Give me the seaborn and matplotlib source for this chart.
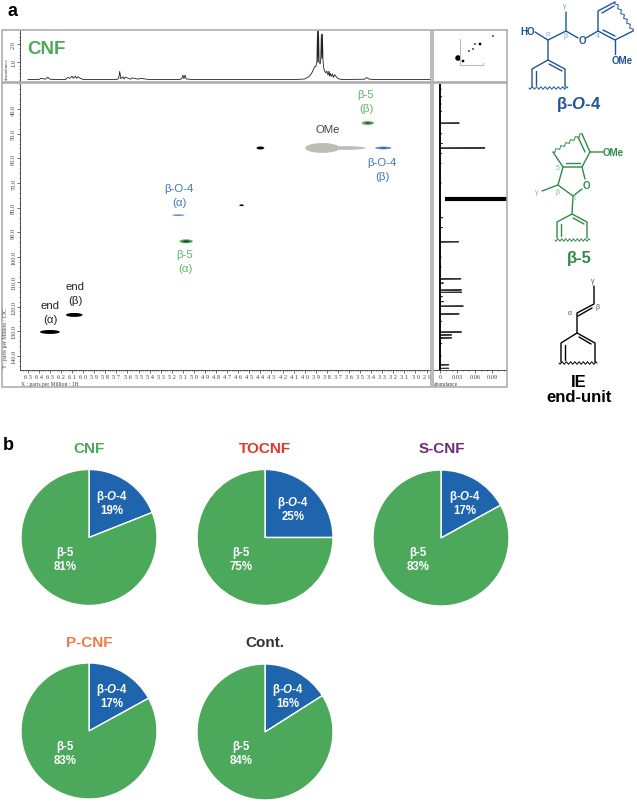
import numpy as np
import pandas as pd
import matplotlib
matplotlib.use("Agg")
import matplotlib.pyplot as plt
from matplotlib.patches import Ellipse, Rectangle
import seaborn as sns

# pie data
pie_names = ['CNF', 'TOCNF', 'S-CNF', 'P-CNF', 'Cont.']
bo4_share = [19, 25, 17, 17, 16]
b5_share = [81, 75, 83, 83, 84]
title_colors = ['#4CA85A', '#E0392B', '#6C2C7C', '#EE7B47', '#333333']

# 2D spectrum cross peaks: 1H ppm, 13C ppm, width, height, colour
peak_h = [6.30, 6.08, 5.14, 5.07, 5.07, 4.57, 4.40, 3.84, 3.63, 3.43, 3.43, 3.29, 3.29]
peak_c = [130.3, 123.4, 83.0, 93.6, 93.6, 79.0, 55.8, 55.8, 55.8, 45.7, 45.7, 55.8, 55.8]
peak_w = [0.18, 0.15, 0.11, 0.12, 0.06, 0.04, 0.07, 0.31, 0.36, 0.11, 0.05, 0.15, 0.05]
peak_t = [1.6, 1.6, 0.6, 1.6, 0.7, 0.7, 1.2, 4.0, 1.5, 1.5, 0.5, 1.1, 0.5]
peak_col = ['black', 'black', '#4F86C0', '#4CA85A', '#1c3d24', 'black', 'black',
            '#BDBDB5', '#BDBDB5', '#4CA85A', '#1c3d24', '#5B8FC7', '#2c4f78']

# top 1H projection
top_ppm = [6.50, 6.40, 6.38, 6.34, 6.32, 6.30, 6.25, 6.16, 6.14, 6.12, 6.10, 6.09, 6.07, 6.06, 6.05, 6.00,
           5.70, 5.68, 5.67, 5.66, 5.64, 5.63, 5.62, 5.57, 5.56, 5.50, 5.49, 5.40,
           5.13, 5.11, 5.10, 5.09, 5.08, 5.07, 5.00, 4.40, 4.10, 4.00, 3.96, 3.94, 3.92, 3.91,
           3.90, 3.89, 3.885, 3.88, 3.875, 3.87, 3.86, 3.855, 3.85, 3.845, 3.84, 3.835, 3.83, 3.82,
           3.81, 3.80, 3.79, 3.78, 3.775, 3.77, 3.76, 3.75, 3.74, 3.73, 3.70, 3.66,
           3.46, 3.44, 3.42, 3.38, 3.20, 2.86]
top_abund = [0.03, 0.03, 0.10, 0.05, 0.16, 0.05, 0.03, 0.03, 0.15, 0.10, 0.22, 0.10, 0.22, 0.10, 0.18, 0.03,
             0.03, 0.08, 0.48, 0.08, 0.18, 0.06, 0.16, 0.05, 0.12, 0.05, 0.10, 0.03,
             0.03, 0.08, 0.28, 0.08, 0.28, 0.06, 0.03, 0.03, 0.03, 0.06, 0.20, 0.35, 0.60, 0.75,
             0.75, 1.00, 2.72, 1.00, 2.72, 1.00, 0.90, 1.20, 2.55, 1.20, 2.55, 1.10, 0.70, 0.50,
             0.40, 0.50, 0.28, 0.50, 0.22, 0.38, 0.20, 0.35, 0.15, 0.30, 0.08, 0.03,
             0.05, 0.14, 0.06, 0.03, 0.03, 0.03]

# right 13C projection sticks
stick_c = [32, 35, 38, 41, 45.7, 50, 54, 55.8, 58, 62, 70, 84, 88, 93.8, 100, 104, 108.8, 110.5, 113.3, 114.2,
           116, 118, 119.8, 123.0, 126, 130.3, 131.5, 132.7, 135, 140, 143.6, 145.0]
stick_abund = [0.002, 0.003, 0.002, 0.003, 0.033, 0.003, 0.004, 0.077, 0.003, 0.002, 0.002, 0.005, 0.004, 0.032,
               0.002, 0.002, 0.036, 0.006, 0.037, 0.037, 0.004, 0.006, 0.040, 0.033, 0.003, 0.037, 0.020,
               0.020, 0.003, 0.002, 0.015, 0.015]
heavy_c = 76.5

# thumbnail dots (box pixels)
thumb_x = [25, 30, 36, 40, 42, 47, 60]
thumb_y = [28, 31, 21, 19, 14, 14, 6]
thumb_s = [14, 4, 2, 2, 2, 4, 2]

x_ticks = np.round(np.arange(2.9, 6.55, 0.1), 1)
y_ticks = [40, 50, 60, 70, 80, 90, 100, 110, 120, 130, 140]

GREEN = '#4CA85A'
BLUE = '#1F65AE'
DBLUE = '#1E5597'
DGREEN = '#2F8B45'

sns.set_theme(style="white")
plt.rcParams['font.family'] = ['Liberation Sans', 'DejaVu Sans']
plt.rcParams['mathtext.fontset'] = 'custom'
plt.rcParams['mathtext.it'] = 'Liberation Sans:italic:bold'
plt.rcParams['mathtext.rm'] = 'Liberation Sans:bold'
plt.rcParams['mathtext.bf'] = 'Liberation Sans:bold'

W, H = 637, 803
fig = plt.figure(figsize=(W / 100, H / 100), dpi=100)


def px_axes(x0, y0, x1, y1, **kw):
    return fig.add_axes([x0 / W, 1 - y1 / H, (x1 - x0) / W, (y1 - y0) / H], **kw)


def tiny_ticks(ax):
    ax.tick_params(which='major', length=2, width=0.5, color='#333333', pad=0.8, labelsize=4.6,
                   labelcolor='#444444', bottom=ax.spines['bottom'].get_visible(),
                   left=ax.spines['left'].get_visible())
    ax.tick_params(which='minor', length=1, width=0.4, color='#333333',
                   bottom=ax.spines['bottom'].get_visible(), left=ax.spines['left'].get_visible())
    for lab in ax.get_xticklabels() + ax.get_yticklabels():
        lab.set_family('Liberation Serif')


# 2D spectrum
ax2d = px_axes(20, 85, 431, 371)
ax2d.set_xlim(6.57, 2.86)
ax2d.set_ylim(145.7, 29.9)
for h, c, w, t, col in zip(peak_h, peak_c, peak_w, peak_t, peak_col):
    ax2d.add_patch(Ellipse((h, c), w, t, color=col, lw=0))
ax2d.set_xticks(x_ticks)
ax2d.set_xticklabels([f'{v:.1f}'.replace('.', ' ') for v in x_ticks])
ax2d.set_xticks(np.arange(2.9, 6.55, 0.02), minor=True)
ax2d.set_yticks(y_ticks)
ax2d.set_yticklabels([f'{v:.1f}' for v in y_ticks], rotation=90, va='center')
ax2d.set_yticks(np.arange(30, 146, 2), minor=True)
sns.despine(ax=ax2d)
for s in ('left', 'bottom'):
    ax2d.spines[s].set_linewidth(0.6)
    ax2d.spines[s].set_color('#333333')
tiny_ticks(ax2d)

# top projection
ax_top = px_axes(20, 31, 431, 82)
sns.lineplot(x=top_ppm, y=top_abund, sort=False, estimator=None, color='#222222', lw=0.6, ax=ax_top)
ax_top.set_xlim(6.57, 2.86)
ax_top.set_ylim(-0.05, 2.78)
ax_top.set_xticks([])
ax_top.set_yticks([1, 2])
ax_top.set_yticklabels(['1.0', '2.0'], rotation=90, va='center')
ax_top.set_yticks(np.arange(0, 2.8, 0.2), minor=True)
sns.despine(ax=ax_top, bottom=True)
ax_top.spines['left'].set_linewidth(0.6)
ax_top.spines['left'].set_color('#333333')
tiny_ticks(ax_top)

# right projection
ax_right = px_axes(433, 85, 507, 371)
side_x, side_c = [0.0], [30.0]
for c, a in zip(stick_c, stick_abund):
    side_x += [0.0, a, 0.0]
    side_c += [c, c, c + 0.1]
side_x.append(0.0)
side_c.append(145.7)
side_df = pd.DataFrame({'abund': side_x, 'c': side_c})
sns.lineplot(data=side_df, x='abund', y='c', sort=False, estimator=None, color='#333333', lw=0.7, ax=ax_right)
ax_right.plot([0, 0], [30, 145.7], color='black', lw=1.3)
ax_right.plot([0.008, 0.12], [heavy_c, heavy_c], color='black', lw=3.0, solid_capstyle='butt')
ax_right.set_xlim(-0.012, 0.115)
ax_right.set_ylim(145.7, 29.9)
ax_right.set_xlabel('')
ax_right.set_ylabel('')
ax_right.set_xticks([0, 0.03, 0.06, 0.09])
ax_right.set_xticklabels(['0', '0.03', '0.06', '0.09'])
ax_right.set_xticks(np.arange(0, 0.115, 0.01), minor=True)
ax_right.set_yticks([])
sns.despine(ax=ax_right, left=True)
ax_right.spines['bottom'].set_linewidth(0.6)
ax_right.spines['bottom'].set_color('#333333')
tiny_ticks(ax_right)

# thumbnail box
ax_thumb = px_axes(433, 31, 507, 83)
ax_thumb.set_xlim(0, 74)
ax_thumb.set_ylim(52, 0)
ax_thumb.axis('off')
ax_thumb.plot([27, 27, 50, 50], [9, 35, 35, 33], color='#bbbbbb', lw=0.8)
sns.scatterplot(x=thumb_x, y=thumb_y, size=thumb_s, sizes=(1.5, 16), color='black',
                legend=False, linewidth=0, ax=ax_thumb)

# pies
pie_x = [89, 265, 441, 89, 265]
pie_y = [538.5, 538.5, 539, 732, 733]
R = 68
for i, name in enumerate(pie_names):
    ax = px_axes(pie_x[i] - R - 2, pie_y[i] - R - 2, pie_x[i] + R + 2, pie_y[i] + R + 2)
    ax.pie([bo4_share[i], b5_share[i]], colors=[BLUE, GREEN], startangle=90, counterclock=False,
           radius=1, wedgeprops={'edgecolor': 'white', 'linewidth': 1.0})
    ax.set_xlim(-(R + 2) / R, (R + 2) / R)
    ax.set_ylim(-(R + 2) / R, (R + 2) / R)

# everything else in figure pixels
ov = fig.add_axes([0, 0, 1, 1], zorder=10)
ov.set_xlim(0, W)
ov.set_ylim(H, 0)
ov.axis('off')
ov.patch.set_alpha(0)


def txt(x, y, s, size=8, color='black', weight='normal', **kw):
    kw.setdefault('family', ['Liberation Sans', 'DejaVu Sans'])
    ov.text(x, y, s, fontsize=size, color=color, weight=weight, ha=kw.pop('ha', 'center'), va=kw.pop('va', 'center'), **kw)


def bonds(points, color, lw=1.0):
    xs, ys = zip(*points)
    ov.plot(xs, ys, color=color, lw=lw, solid_capstyle='round')


def wavy(x0, y0, x1, y1, color, n=9, amp=1.3):
    # little squiggle for the cut bonds
    t = np.linspace(0, 1, n * 4 + 1)
    dx, dy = x1 - x0, y1 - y0
    L = np.hypot(dx, dy)
    off = amp * np.sin(t * n * 2 * np.pi)
    ov.plot(x0 + dx * t - dy / L * off, y0 + dy * t + dx / L * off, color=color, lw=0.7)


# frames
for x0, y0, x1, y1 in [(2, 31, 431, 83), (2, 84, 431, 388), (433, 31, 507, 83), (433, 84, 507, 388)]:
    ov.add_patch(Rectangle((x0, y0), x1 - x0, y1 - y0, fill=False, ec='#A8A8A8', lw=1.1))

txt(12, 11, 'a', 13, weight='bold')
txt(8, 446, 'b', 13, weight='bold')
txt(46, 49, 'CNF', 13.5, GREEN, 'bold')

# axis captions of the JEOL plot
txt(21, 385, 'X : parts per Million : 1H', 4.1, '#444444', ha='left', family='Liberation Serif')
txt(5.5, 338, 'Y : parts per Million : 13C', 4.1, '#444444', rotation=90, family='Liberation Serif')
txt(6.5, 69, 'abundance', 3.6, '#444444', rotation=90, family='Liberation Serif')
txt(434, 385, 'abundance', 4.1, '#444444', ha='left', family='Liberation Serif')

# peak labels
LB = '#3F78B5'
LG = '#5CB868'
for x, y, s, c in [(179, 189, 'β-O-4', LB), (179, 203, '(α)', LB), (185, 255, 'β-5', LG), (185, 269, '(α)', LG),
                   (50, 306, 'end', '#222222'), (50, 320, '(α)', '#222222'),
                   (75, 287, 'end', '#222222'), (75, 301, '(β)', '#222222'),
                   (366, 95, 'β-5', LG), (366, 109, '(β)', LG), (328, 130, 'OMe', '#444444'),
                   (382, 163, 'β-O-4', LB), (382, 177, '(β)', LB)]:
    txt(x, y, s, 8.2, c)

# β-O-4 structure
bonds([(535, 33), (548, 41), (566, 32), (566, 13)], DBLUE)
bonds([(566, 32), (578, 39)], DBLUE)
bonds([(586, 39), (598, 32), (598, 12), (615, 3)], DBLUE)
bonds([(602, 14), (614, 7)], DBLUE)
bonds([(633, 32), (615, 41), (598, 32)], DBLUE)
bonds([(603, 31), (615, 37)], DBLUE)
bonds([(615, 41), (615, 55)], DBLUE)
bonds([(548, 41), (548, 61), (565, 70), (565, 88)], DBLUE)
bonds([(548, 61), (532, 70), (532, 88)], DBLUE)
bonds([(536, 72), (536, 86)], DBLUE)
bonds([(549, 65), (562, 72)], DBLUE)
wavy(615, 3, 633, 32, DBLUE, n=6)
wavy(529, 89, 568, 89, DBLUE)
txt(528, 32, 'HO', 7, DBLUE, 'bold')
txt(582, 41, 'O', 7, DBLUE, 'bold')
txt(622, 61, 'OMe', 7, DBLUE, 'bold')
txt(548, 34, 'α', 5, '#7FA4CC')
txt(565, 37, 'β', 5, '#7FA4CC')
txt(565, 6, 'γ', 5, '#7FA4CC')
txt(598, 37, '4', 5, '#7FA4CC')
txt(579, 105, r'β-$\mathit{O}$-4', 12, DBLUE, 'bold')

# β-5 structure
bonds([(582, 135), (590, 153), (603, 153)], DGREEN)
bonds([(578, 138), (585, 153)], DGREEN)
bonds([(590, 153), (582, 168), (563, 168), (553, 153)], DGREEN)
bonds([(580, 164), (566, 164)], DGREEN)
bonds([(582, 168), (585, 180)], DGREEN)
bonds([(582, 190), (573, 197), (558, 186), (563, 168)], DGREEN)
bonds([(558, 186), (542, 192)], DGREEN)
bonds([(573, 197), (572, 215), (587, 223), (587, 239)], DGREEN)
bonds([(572, 215), (557, 223), (557, 239)], DGREEN)
bonds([(561, 225), (561, 237)], DGREEN)
bonds([(573, 219), (584, 225)], DGREEN)
wavy(553, 153, 582, 135, DGREEN, n=6)
wavy(555, 241, 590, 241, DGREEN)
txt(586, 186, 'O', 7, DGREEN, 'bold')
txt(613, 153, 'OMe', 7, DGREEN, 'bold')
txt(537, 192, 'γ', 5, '#7FBB8C')
txt(558, 192, 'β', 5, '#7FBB8C')
txt(558, 168, '5', 5, '#7FBB8C')
txt(574, 199, 'α', 5, '#7FBB8C')
txt(579, 259, 'β-5', 12, DGREEN, 'bold')

# end-unit structure
bonds([(594, 287), (594, 305), (577, 314), (577, 334), (595, 344), (595, 363)], 'black', 1.0)
bonds([(592, 309), (578, 317)], 'black', 1.0)
bonds([(577, 334), (561, 344), (561, 363)], 'black', 1.0)
bonds([(565, 346), (565, 361)], 'black', 1.0)
bonds([(579, 338), (591, 345)], 'black', 1.0)
wavy(559, 364, 597, 364, 'black')
txt(593, 282, 'γ', 5, '#555555')
txt(598, 308, 'β', 5, '#555555')
txt(570, 314, 'α', 5, '#555555')
txt(579, 383, 'IE', 12, 'black', 'bold')
txt(579, 398, 'end-unit', 12, 'black', 'bold')

# pie labels
bo4_lab_x = [112, 293, 465, 112, 288]
bo4_lab_y = [497, 503, 497, 690, 690]
b5_lab_x = [65, 241, 418, 65, 241]
b5_lab_y = [553, 553, 553, 747, 747]
title_x = [89, 265, 442, 89, 265]
title_y = [449, 449, 449, 643, 643]
for i, name in enumerate(pie_names):
    txt(title_x[i], title_y[i], name, 11, title_colors[i], 'bold')
    txt(bo4_lab_x[i], bo4_lab_y[i], r'β-$\mathit{O}$-4', 8.3, 'white', 'bold')
    txt(bo4_lab_x[i], bo4_lab_y[i] + 14, f'{bo4_share[i]}%', 8.3, 'white', 'bold')
    txt(b5_lab_x[i], b5_lab_y[i], 'β-5', 8.3, 'white', 'bold')
    txt(b5_lab_x[i], b5_lab_y[i] + 14, f'{b5_share[i]}%', 8.3, 'white', 'bold')

fig.savefig('out.png', dpi=100, facecolor='white')
